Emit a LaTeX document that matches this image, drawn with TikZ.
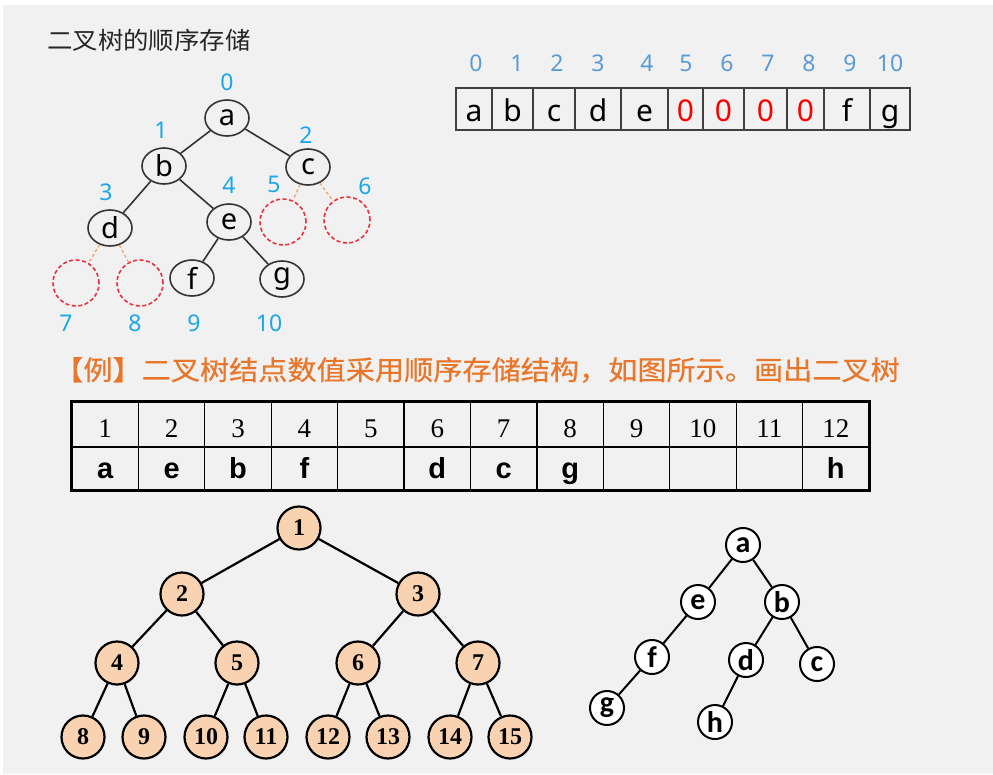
\documentclass[tikz,border=0pt]{standalone}
\usepackage{fontspec}
\usetikzlibrary{shapes.geometric}
\setmainfont{Noto Sans}
\newfontfamily\cjk[FakeStretch=1.06]{Noto Sans CJK SC}
\newfontfamily\cjkwide[FakeStretch=1.08,FakeBold=0.6]{Noto Sans CJK SC}
\newfontfamily\tnr{Liberation Serif}
\newfontfamily\arial{Liberation Sans}
\newfontfamily\calib{Carlito}
\newcommand{\fsz}[1]{\fontsize{#1}{#1}\selectfont}

\definecolor{slidebg}{HTML}{F1F1F1}
\definecolor{titlegray}{HTML}{262626}
\definecolor{poscyan}{HTML}{1AA7E8}
\definecolor{arrblue}{HTML}{5B9BD5}
\definecolor{nilred}{HTML}{E8323C}
\definecolor{nilorange}{HTML}{F0A46E}
\definecolor{exorange}{HTML}{E9772B}
\definecolor{heappeach}{HTML}{F9D3B1}

\tikzset{
  elnode/.style={ellipse, draw=black!80, line width=1.6pt, minimum width=44pt, minimum height=36pt, inner sep=0pt, font=\fsz{29}},
  nilnode/.style={circle, draw=nilred, dash pattern=on 4pt off 2.5pt, line width=1.6pt, minimum size=46pt},
  treeline/.style={draw=black!80, line width=1.6pt},
  nilline/.style={draw=nilorange, dash pattern=on 3pt off 2.5pt, line width=1.3pt},
  posnum/.style={text=poscyan, font=\fsz{23}},
  arrnum/.style={text=arrblue, font=\fsz{23}},
  arrcell/.style={draw=black!75, line width=1.2pt, minimum height=42pt, inner sep=0pt, font=\fsz{30}, text height=26pt, text depth=2pt},
  tabhead/.style={draw, line width=1.2pt, minimum width=66.4pt, minimum height=45pt, inner sep=0pt, font=\tnr\fsz{27}, text height=26pt, text depth=0pt},
  tabval/.style={draw, line width=1.2pt, minimum width=66.4pt, minimum height=43pt, inner sep=0pt, font=\arial\bfseries\fsz{29}, text height=24pt, text depth=4pt},
  heapnode/.style={circle, draw, fill=heappeach, line width=2.2pt, minimum size=43pt, inner sep=0pt, font=\tnr\bfseries\fsz{24}},
  heapline/.style={line width=2.2pt},
  ansnode/.style={circle, draw, fill=white, line width=2pt, minimum size=34pt, inner sep=0pt, font=\calib\bfseries\fsz{30}},
  ansline/.style={line width=2pt}
}

\begin{document}
\begin{tikzpicture}[x=1pt,y=-1pt]
\fill[white] (0,0) rectangle (993,774);
\fill[slidebg] (3,5) rectangle (993,774);
\useasboundingbox (0,0) rectangle (993,774);

\node[anchor=west, inner sep=0pt, text=titlegray, font=\cjk\fsz{24}] (title) at (47,40) {二叉树的顺序存储};

\node[elnode] (a) at (227,118) {a};
\node[elnode] (b) at (164,166) {b};
\node[elnode] (c) at (308,167) {c};
\node[elnode] (d) at (110,228) {d};
\node[elnode] (e) at (229,222) {e};
\node[elnode] (f) at (192,278) {f};
\node[elnode] (g) at (282,279) {g};
\node[nilnode] (nil5) at (283,222) {};
\node[nilnode] (nil6) at (347,220) {};
\node[nilnode] (nil7) at (76,283) {};
\node[nilnode] (nil8) at (140,283) {};
\draw[treeline] (a) -- (b) (a) -- (c) (b) -- (d) (b) -- (e) (e) -- (f) (e) -- (g);
\draw[nilline] (c) -- (nil5) (c) -- (nil6) (d) -- (nil7) (d) -- (nil8);
\foreach \n/\x/\y in {0/227/82, 1/161/130, 2/306/135, 3/106/192, 4/229/185, 5/274/184, 6/365/186, 7/66/323, 8/135/323, 9/194/323, 10/269/323}
  \node[posnum] (pos\n) at (\x,\y) {\n};

\foreach \i/\l/\r/\t/\c/\p in {0/456/492/a/black/476, 1/492/533/b/black/517, 2/533/575/c/black/557, 3/575/621/d/black/598, 4/621/668/e/black/647, 5/668/703/0/red/686, 6/703/744/0/red/727, 7/744/787/0/red/768, 8/787/824/0/red/809, 9/824/870/f/black/850, 10/870/910/g/black/890}{
  \node[arrcell, minimum width={\r pt-\l pt}, text=\c] (cell\i) at ({(\l+\r)/2},109) {\t};
  \node[arrnum] (arr\i) at (\p,63) {\i};
}

\node[anchor=west, inner sep=0pt, text=exorange, font=\cjkwide\fsz{27}] (example) at (54,370) {【例】二叉树结点数值采用顺序存储结构，如图所示。画出二叉树};

\foreach \i/\t in {1/a, 2/e, 3/b, 4/f, 5/, 6/d, 7/c, 8/g, 9/, 10/, 11/, 12/h}{
  \node[tabhead] (h\i) at ({72+(\i-0.5)*66.42},424.5) {\i};
  \node[tabval] (v\i) at ({72+(\i-0.5)*66.42},468.5) {\t};
}
\draw[line width=2.6pt] (h1.north west) rectangle (v12.south east);

\foreach \i/\x/\y in {1/299/528, 2/182/594, 3/418/594, 4/117/663, 5/237/663, 6/358/663, 7/478/663, 8/83/737, 9/144/737, 10/206/737, 11/266/737, 12/328/737, 13/388/737, 14/450/737, 15/510/737}
  \node[heapnode] (n\i) at (\x,\y) {\i};
\foreach \i in {2,...,15}{
  \pgfmathtruncatemacro{\p}{\i/2}
  \draw[heapline] (n\p) -- (n\i);
}

\node[ansnode] (ra) at (743,545) {a};
\node[ansnode] (re) at (698,602) {e};
\node[ansnode] (rb) at (782,602) {b};
\node[ansnode] (rf) at (652,657) {f};
\node[ansnode] (rd) at (746,660) {d};
\node[ansnode] (rc) at (817,664) {c};
\node[ansnode] (rg) at (607,708) {g};
\node[ansnode] (rh) at (715,722) {h};
\draw[ansline] (ra) -- (re) (ra) -- (rb) (re) -- (rf) (rf) -- (rg) (rb) -- (rd) (rb) -- (rc) (rd) -- (rh);
\end{tikzpicture}
\end{document}
